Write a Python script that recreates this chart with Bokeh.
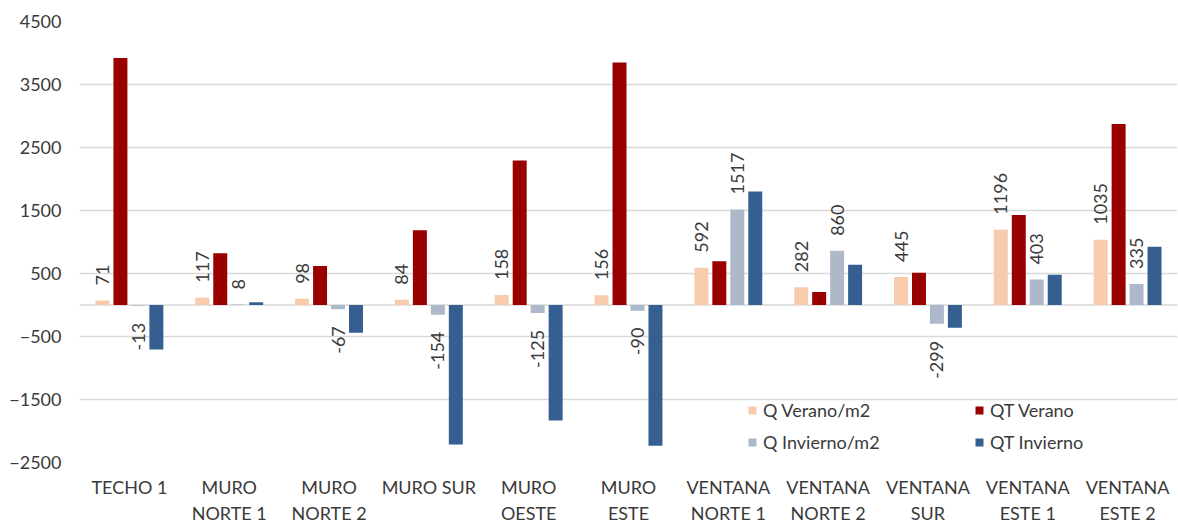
import math
from bokeh.plotting import figure
from bokeh.models import (ColumnDataSource, FactorRange, Range1d, FixedTicker,
                          Span, Legend, LegendItem)
from bokeh.transform import dodge
from bokeh.core.properties import value
from bokeh.embed import file_html
from bokeh.resources import INLINE

# ---------------- data ----------------
categories = ["TECHO 1", "MURO\nNORTE 1", "MURO\nNORTE 2", "MURO SUR", "MURO\nOESTE",
              "MURO\nESTE", "VENTANA\nNORTE 1", "VENTANA\nNORTE 2", "VENTANA\nSUR",
              "VENTANA\nESTE 1", "VENTANA\nESTE 2"]
series_names = ["Q Verano/m2", "QT Verano", "Q Invierno/m2", "QT Invierno"]
q_verano = [71, 117, 98, 84, 158, 156, 592, 282, 445, 1196, 1035]
qt_verano = [3920, 820, 620, 1185, 2295, 3850, 695, 205, 510, 1430, 2875]
q_invierno = [-13, 8, -67, -154, -125, -90, 1517, 860, -299, 403, 335]
qt_invierno = [-705, 45, -440, -2215, -1835, -2235, 1800, 640, -360, 480, 925]
y_ticks = [-2500, -1500, -500, 500, 1500, 2500, 3500, 4500]

colors = ["#f8cbad", "#990000", "#adb9ca", "#365f91"]
offsets = [-0.27, -0.09, 0.09, 0.27]
FONT = "Lato"
TXT = "#3a3a3a"

src = ColumnDataSource(dict(cat=categories, s0=q_verano, s1=qt_verano,
                            s2=q_invierno, s3=qt_invierno))

p = figure(x_range=FactorRange(*categories), y_range=Range1d(-2500, 4500),
           width=1178, height=527, output_backend="svg", toolbar_location=None,
           min_border_left=79, min_border_top=21, min_border_bottom=65,
           min_border_right=1)
p.outline_line_color = None
p.background_fill_color = "white"

p.xgrid.visible = False
p.ygrid.ticker = FixedTicker(ticks=y_ticks)
p.ygrid.grid_line_color = "#d9d9d9"
p.ygrid.grid_line_width = 1.5

p.yaxis.ticker = FixedTicker(ticks=y_ticks)
for ax in (p.xaxis[0], p.yaxis[0]):
    ax.axis_line_color = None
    ax.major_tick_line_color = None
    ax.minor_tick_line_color = None
    ax.major_tick_out = 0
    ax.major_tick_in = 0
    ax.major_label_text_font = FONT
    ax.major_label_text_font_size = "18px"
    ax.major_label_text_color = TXT
p.yaxis.major_label_standoff = 18
p.xaxis.major_label_standoff = 13

zero = Span(location=0, dimension="width", line_color="#d9d9d9", line_width=1.5,
            level="underlay")
p.add_layout(zero)

renderers = []
for i, col in enumerate(["s0", "s1", "s2", "s3"]):
    r = p.vbar(x=dodge("cat", offsets[i], range=p.x_range), top=col, bottom=0,
               width=0.14, source=src, fill_color=colors[i], line_color=None)
    renderers.append(r)

# data labels for Q Verano/m2 and Q Invierno/m2
for i, vals in ((0, q_verano), (2, q_invierno)):
    pos = [(c, v) for c, v in zip(categories, vals) if v >= 0]
    neg = [(c, v) for c, v in zip(categories, vals) if v < 0]
    for items, align, off in ((pos, "left", -15), (neg, "right", 17)):
        if not items:
            continue
        s = ColumnDataSource(dict(cat=[a for a, _ in items], v=[b for _, b in items],
                                  t=[str(b) for _, b in items]))
        p.text(x=dodge("cat", offsets[i], range=p.x_range), y="v", text="t", source=s,
               angle=math.pi / 2, text_align=align, text_baseline="middle",
               y_offset=off, text_font=value(FONT), text_font_size=value("18px"),
               text_color=TXT)

def make_legend(idx, loc):
    lg = Legend(items=[LegendItem(label=series_names[k], renderers=[renderers[k]]) for k in idx],
                location=loc, orientation="vertical", border_line_color=None,
                background_fill_alpha=0, padding=0, margin=0, spacing=10,
                label_height=20, glyph_height=10, glyph_width=10, label_standoff=6,
                label_text_font=FONT, label_text_font_size="18px",
                label_text_color=TXT)
    return lg

p.add_layout(make_legend([0, 2], (668, 9)))
p.add_layout(make_legend([1, 3], (895, 9)))

open("out.html", "w").write(file_html(p, INLINE))
